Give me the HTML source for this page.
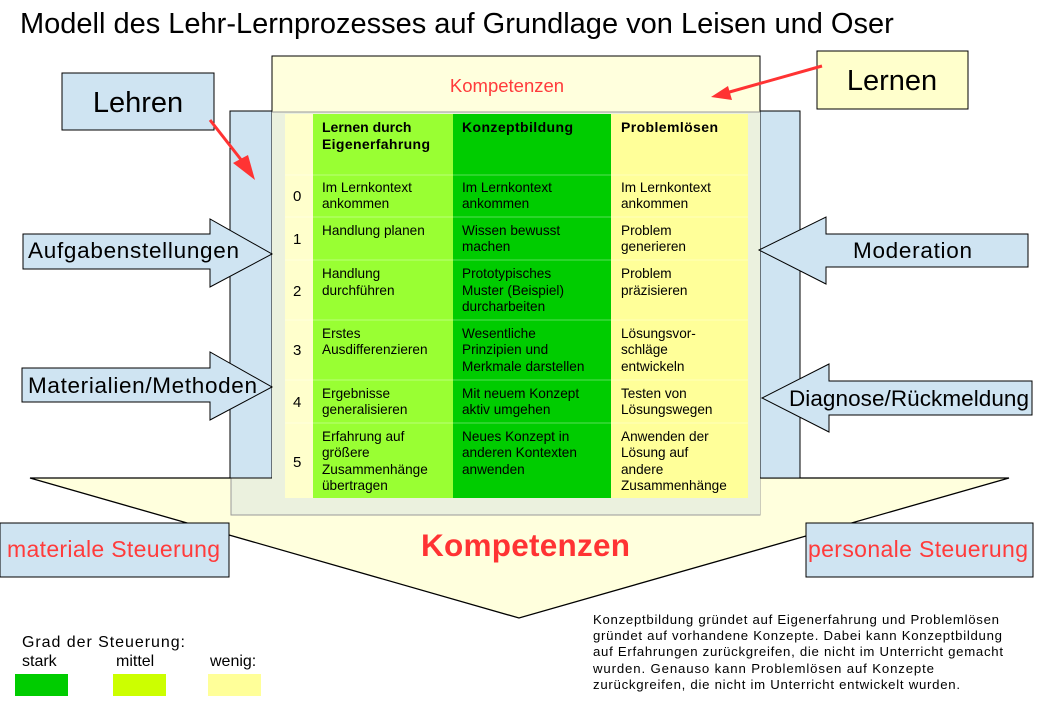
<!DOCTYPE html>
<html><head><meta charset="utf-8"><style>
html,body{margin:0;padding:0;background:#fff;}
svg{display:block;font-family:"Liberation Sans",sans-serif;}
</style></head><body>
<svg width="1040" height="710" viewBox="0 0 1040 710" xmlns="http://www.w3.org/2000/svg">
<text x="20" y="33" font-size="29" fill="#000">Modell des Lehr-Lernprozesses auf Grundlage von Leisen und Oser</text>
<polygon points="30,478 1009,478 519,618" fill="#ffffdd" stroke="#000" stroke-width="1.3"/>
<rect x="231" y="112" width="529" height="403" fill="#ebf1de" stroke="#999" stroke-width="1"/>
<rect x="230" y="111" width="42" height="367" fill="#cfe4f2" stroke="#000" stroke-width="1"/>
<rect x="760" y="111" width="40" height="367" fill="#cfe4f2" stroke="#000" stroke-width="1"/>
<line x1="230" y1="111" x2="800" y2="111" stroke="#000" stroke-width="1"/>
<rect x="272" y="112" width="488" height="402.5" fill="#ebf1de"/>
<rect x="272" y="56" width="488" height="56" fill="#ffffdd" stroke="#000" stroke-width="1"/>
<line x1="272" y1="112" x2="760" y2="112" stroke="#999"/>
<text x="507" y="92" font-size="18.5" fill="#ff3b3b" text-anchor="middle">Kompetenzen</text>
<rect x="285" y="114" width="28" height="384" fill="#ffffcc"/>
<rect x="313" y="114" width="140" height="384" fill="#99ff33"/>
<rect x="453" y="114" width="158" height="384" fill="#00cc00"/>
<rect x="611" y="114" width="137" height="384" fill="#ffff99"/>
<g stroke="#ffffff" stroke-opacity="0.35" stroke-width="1">
<line x1="285" y1="175" x2="748" y2="175"/><line x1="285" y1="217" x2="748" y2="217"/>
<line x1="285" y1="260" x2="748" y2="260"/><line x1="285" y1="320" x2="748" y2="320"/>
<line x1="285" y1="380" x2="748" y2="380"/><line x1="285" y1="423" x2="748" y2="423"/>
</g>
<g font-size="13.6" fill="#000">
<g font-weight="bold" font-size="14"><text x="322" y="132">Lernen durch</text><text x="322" y="149" textLength="108">Eigenerfahrung</text>
<text x="462" y="132" textLength="111">Konzeptbildung</text><text x="621" y="132" textLength="97">Problemlösen</text></g>
<g font-size="15"><text x="293" y="201">0</text><text x="293" y="244">1</text><text x="293" y="296">2</text><text x="293" y="355">3</text><text x="293" y="407">4</text><text x="293" y="467">5</text></g>
<text x="322" y="192">Im Lernkontext</text><text x="322" y="208">ankommen</text>
<text x="462" y="192">Im Lernkontext</text><text x="462" y="208">ankommen</text>
<text x="621" y="192">Im Lernkontext</text><text x="621" y="208">ankommen</text>
<text x="322" y="235">Handlung planen</text>
<text x="462" y="235">Wissen bewusst</text><text x="462" y="251">machen</text>
<text x="621" y="235">Problem</text><text x="621" y="251">generieren</text>
<text x="322" y="278">Handlung</text><text x="322" y="295">durchführen</text>
<text x="462" y="278">Prototypisches</text><text x="462" y="295">Muster (Beispiel)</text><text x="462" y="311">durcharbeiten</text>
<text x="621" y="278">Problem</text><text x="621" y="295">präzisieren</text>
<text x="322" y="338">Erstes</text><text x="322" y="354">Ausdifferenzieren</text>
<text x="462" y="338">Wesentliche</text><text x="462" y="354">Prinzipien und</text><text x="462" y="371">Merkmale darstellen</text>
<text x="621" y="338">Lösungsvor-</text><text x="621" y="354">schläge</text><text x="621" y="371">entwickeln</text>
<text x="322" y="398">Ergebnisse</text><text x="322" y="414">generalisieren</text>
<text x="462" y="398">Mit neuem Konzept</text><text x="462" y="414">aktiv umgehen</text>
<text x="621" y="398">Testen von</text><text x="621" y="414">Lösungswegen</text>
<text x="322" y="441">Erfahrung auf</text><text x="322" y="457">größere</text><text x="322" y="474">Zusammenhänge</text><text x="322" y="490">übertragen</text>
<text x="462" y="441">Neues Konzept in</text><text x="462" y="457">anderen Kontexten</text><text x="462" y="474">anwenden</text>
<text x="621" y="441">Anwenden der</text><text x="621" y="457">Lösung auf</text><text x="621" y="474">andere</text><text x="621" y="490">Zusammenhänge</text>
</g>
<rect x="62" y="73" width="152" height="57" fill="#cfe4f2" stroke="#000"/>
<text x="138" y="112" font-size="29" text-anchor="middle">Lehren</text>
<rect x="817" y="51" width="151" height="58" fill="#ffffcc" stroke="#000"/>
<text x="892" y="90" font-size="29" text-anchor="middle">Lernen</text>
<line x1="210" y1="120" x2="246" y2="166" stroke="#ff3333" stroke-width="3"/>
<polygon points="255,180 233,163 248,155" fill="#ff3333"/>
<line x1="822" y1="66" x2="726" y2="93" stroke="#ff3333" stroke-width="3"/>
<polygon points="711,97 728,86 732,100" fill="#ff3333"/>
<g fill="#cfe4f2" stroke="#000" stroke-width="1">
<polygon points="23,234 210,234 210,219 272,254 210,287 210,269 23,269"/>
<polygon points="22,368 210,368 210,352 272,387 210,420 210,402 22,402"/>
<polygon points="1028,234 826,234 826,217 759,250 826,284 826,267 1028,267"/>
<polygon points="1032,381 829,381 829,364 762,398 829,432 829,415 1032,415"/>
</g>
<g font-size="22.5">
<text x="28" y="258" textLength="211">Aufgabenstellungen</text>
<text x="28" y="393" textLength="229">Materialien/Methoden</text>
<text x="853" y="258" textLength="119">Moderation</text>
<text x="789" y="406" textLength="240">Diagnose/Rückmeldung</text>
</g>
<rect x="0" y="523" width="229" height="54" fill="#cfe4f2" stroke="#000"/>
<text x="7" y="557" font-size="23" fill="#ff3b3b" textLength="213">materiale Steuerung</text>
<rect x="806" y="523" width="227" height="54" fill="#cfe4f2" stroke="#000"/>
<text x="808" y="557" font-size="23" fill="#ff3b3b" textLength="220">personale Steuerung</text>
<text x="421" y="556" font-size="31.5" font-weight="bold" fill="#ff3333" textLength="209">Kompetenzen</text>
<g font-size="16">
<text x="22" y="647" textLength="163">Grad der Steuerung:</text>
<text x="22" y="666">stark</text><text x="116" y="666">mittel</text><text x="210" y="666">wenig:</text>
</g>
<rect x="15" y="674" width="53" height="22" fill="#00cc00"/>
<rect x="113" y="674" width="53" height="22" fill="#ccff00"/>
<rect x="208" y="674" width="53" height="22" fill="#ffff99"/>
<g font-size="13.2">
<text x="593" y="624" textLength="406">Konzeptbildung gründet auf Eigenerfahrung und Problemlösen</text>
<text x="593" y="640" textLength="409">gründet auf vorhandene Konzepte. Dabei kann Konzeptbildung</text>
<text x="593" y="656" textLength="410">auf Erfahrungen zurückgreifen, die nicht im Unterricht gemacht</text>
<text x="593" y="673" textLength="341">wurden. Genauso kann Problemlösen auf Konzepte</text>
<text x="593" y="689" textLength="367">zurückgreifen, die nicht im Unterricht entwickelt wurden.</text>
</g>
</svg>
</body></html>
